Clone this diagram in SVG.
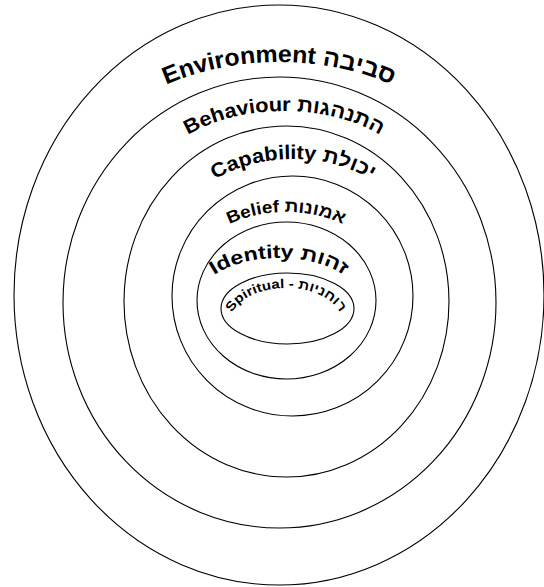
<svg xmlns="http://www.w3.org/2000/svg" width="544" height="587" viewBox="0 0 544 587">
  <style>
    .ring { fill: none; stroke: #000; stroke-width: 1.1; }
    .lbl { font-family: "Liberation Sans", "DejaVu Sans", sans-serif; font-weight: bold; fill: #000; text-anchor: middle; }
  </style>
  <defs>
    <path id="p-env" d="M 59,222 A 220 160 0 0 1 499,222"/>
    <path id="p-beh" d="M 139,206 A 145 95 0 0 1 429,206"/>
    <path id="p-cap" d="M 173,244 A 120 85 0 0 1 413,244"/>
    <path id="p-bel" d="M 196,267 A 90 55 0 0 1 376,267"/>
    <path id="p-ide" d="M 194,306 A 85 48 0 0 1 364,306"/>
    <path id="p-spi" d="M 230,322 A 56 34 0 0 1 342,322"/>
  </defs>
  <rect width="544" height="587" fill="#fff"/>
  <g id="environment">
    <ellipse class="ring" cx="279" cy="295" rx="265" ry="290"/>
    <text class="lbl" font-size="24"><textPath href="#p-env" startOffset="50%" textLength="232" lengthAdjust="spacingAndGlyphs">Environment סביבה</textPath></text>
  </g>
  <g id="behaviour">
    <ellipse class="ring" cx="279.5" cy="302.5" rx="216.5" ry="225.5"/>
    <text class="lbl" font-size="20"><textPath href="#p-beh" startOffset="50%" textLength="200" lengthAdjust="spacingAndGlyphs">Behaviour התנהגות</textPath></text>
  </g>
  <g id="capability">
    <ellipse class="ring" cx="286.5" cy="301.5" rx="162.5" ry="175.5"/>
    <text class="lbl" font-size="20"><textPath href="#p-cap" startOffset="50%" textLength="163" lengthAdjust="spacingAndGlyphs">Capability יכולת</textPath></text>
  </g>
  <g id="belief">
    <ellipse class="ring" cx="292.5" cy="296" rx="120.5" ry="120"/>
    <text class="lbl" font-size="17"><textPath href="#p-bel" startOffset="50%" textLength="117" lengthAdjust="spacingAndGlyphs">Belief אמונות</textPath></text>
  </g>
  <g id="identity">
    <ellipse class="ring" cx="286.5" cy="300.5" rx="89.5" ry="78.5"/>
    <text class="lbl" font-size="19"><textPath href="#p-ide" startOffset="50%" textLength="136" lengthAdjust="spacingAndGlyphs">Identity זהות</textPath></text>
  </g>
  <g id="spiritual">
    <ellipse class="ring" cx="287.5" cy="308.5" rx="66.5" ry="35.5"/>
    <text class="lbl" font-size="13"><textPath href="#p-spi" startOffset="50%" textLength="124" lengthAdjust="spacingAndGlyphs">Spiritual - רוחניות</textPath></text>
  </g>
  <g id="connectors"/>
</svg>
